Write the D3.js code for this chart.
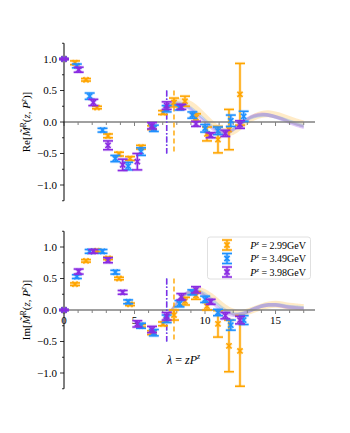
<!DOCTYPE html>
<html><head><meta charset="utf-8">
<script src="https://cdn.jsdelivr.net/npm/d3@7"></script>
<style>body{margin:0;background:#fff}svg{display:block}text{font-family:"Liberation Serif","DejaVu Serif",serif}</style>
</head><body><div id="c"></div>
<script>
// ---- data ----
const seriesNames = ["2.99", "3.49", "3.98"];
const seriesColors = ["#FFA500", "#1E90FF", "#8A2BE2"];
const lambdaOrange = [0,0.78,1.56,2.34,3.12,3.90,4.68,5.46,6.24,7.02,7.80,8.58,9.36,10.14,10.92,11.70,12.48];
const lambdaBlue   = [0,0.91,1.82,2.73,3.64,4.55,5.46,6.37,7.28,8.19,9.10,10.01,10.92,11.83,12.74];
const lambdaPurple = [0,1.04,2.08,3.12,4.16,5.20,6.24,7.28,8.32,9.36,10.40,11.44,12.48];

const reOrange = [1.0,0.94,0.67,0.23,-0.22,-0.51,-0.58,-0.40,-0.09,0.15,0.31,0.33,0.07,-0.19,-0.28,-0.12,0.44];
const reOrangeErr = [0.005,0.03,0.02,0.02,0.03,0.03,0.03,0.03,0.03,0.03,0.07,0.08,0.06,0.11,0.21,0.32,0.49];
const reBlue = [1.0,0.89,0.41,-0.13,-0.58,-0.70,-0.47,-0.10,0.21,0.23,0.11,-0.10,-0.14,0.02,0.09];
const reBlueErr = [0.005,0.03,0.05,0.03,0.05,0.06,0.06,0.05,0.05,0.04,0.05,0.06,0.06,0.09,0.08];
const rePurple = [1.0,0.83,0.31,-0.37,-0.68,-0.63,-0.06,0.26,0.24,-0.03,-0.21,-0.18,-0.04];
const rePurpleErr = [0.005,0.04,0.05,0.07,0.09,0.13,0.05,0.06,0.04,0.04,0.04,0.05,0.06];

const imOrange = [0,0.41,0.78,0.94,0.82,0.50,0.09,-0.25,-0.36,-0.22,-0.08,0.14,0.23,0.06,-0.22,-0.57,-0.65];
const imOrangeErr = [0.005,0.02,0.02,0.02,0.02,0.02,0.02,0.02,0.03,0.03,0.08,0.06,0.06,0.06,0.21,0.41,0.56];
const imBlue = [0,0.53,0.93,0.93,0.60,0.13,-0.25,-0.36,-0.14,0.10,0.28,0.17,-0.04,-0.24,-0.16];
const imBlueErr = [0.005,0.03,0.03,0.03,0.03,0.03,0.04,0.05,0.06,0.05,0.04,0.05,0.05,0.08,0.07];
const imPurple = [0,0.61,0.93,0.79,0.28,-0.22,-0.31,-0.10,0.21,0.32,0.13,-0.09,-0.16];
const imPurpleErr = [0.005,0.04,0.03,0.04,0.03,0.05,0.05,0.06,0.05,0.05,0.04,0.05,0.06];

// fitted bands
const bandLambda = [7,7.5,8,8.5,9,9.5,10,10.5,11,11.5,12,12.5,13,13.5,14,14.5,15,15.5,16,16.5,17];
const reBandOrange = [0.20,0.28,0.32,0.32,0.28,0.20,0.09,-0.02,-0.11,-0.16,-0.15,-0.08,0.01,0.08,0.12,0.13,0.11,0.08,0.04,0.00,-0.03];
const reBandBlue   = [0.20,0.27,0.30,0.28,0.22,0.13,0.03,-0.07,-0.15,-0.17,-0.12,-0.04,0.04,0.09,0.11,0.11,0.08,0.05,0.01,-0.03,-0.06];
const reBandPurple = [0.20,0.26,0.28,0.26,0.20,0.10,0.00,-0.10,-0.17,-0.18,-0.12,-0.03,0.05,0.10,0.12,0.11,0.08,0.04,-0.01,-0.05,-0.08];
const imBandOrange = [-0.18,-0.06,0.08,0.20,0.28,0.31,0.28,0.21,0.12,0.03,-0.03,-0.05,-0.03,0.01,0.05,0.08,0.09,0.08,0.06,0.05,0.04];
const imBandBlue   = [-0.16,-0.04,0.10,0.22,0.29,0.30,0.25,0.16,0.07,-0.01,-0.06,-0.06,-0.03,0.02,0.06,0.08,0.08,0.07,0.05,0.04,0.03];
const imBandPurple = [-0.15,-0.03,0.12,0.24,0.30,0.29,0.22,0.12,0.02,-0.05,-0.08,-0.07,-0.03,0.02,0.06,0.08,0.08,0.06,0.04,0.03,0.02];
const bandHalf = [0.055, 0.03, 0.03];

const zmaxLambda = [7.80, 7.28, 7.28];
const yTicks = [-1.0, -0.5, 0.0, 0.5, 1.0];
const xTickLabels = [0, 5, 10, 15];

// ---- layout ----
const W = 350, H = 433;
const svg = d3.select("#c").append("svg").attr("width", W).attr("height", H);
const x = d3.scaleLinear().domain([0, 17.8]).range([64, 315]);
const panels = [
  {top: 43.25, bottom: 200.75, label: "Re", pts: [[lambdaOrange, reOrange, reOrangeErr],[lambdaBlue, reBlue, reBlueErr],[lambdaPurple, rePurple, rePurpleErr]], bands: [reBandOrange, reBandBlue, reBandPurple], xlabels: false},
  {top: 231.25, bottom: 388.75, label: "Im", pts: [[lambdaOrange, imOrange, imOrangeErr],[lambdaBlue, imBlue, imBlueErr],[lambdaPurple, imPurple, imPurpleErr]], bands: [imBandOrange, imBandBlue, imBandPurple], xlabels: true}
];

function drawErr(g, px, py, ylo, yhi, color) {
  const cw = 5;
  [[3.2, 0.22], [1.5, 1]].forEach(([sw, op]) => {
    const gg = g.append("g").attr("stroke", color).attr("stroke-opacity", op).attr("stroke-width", sw).attr("fill", "none");
    gg.append("line").attr("x1", px).attr("x2", px).attr("y1", ylo).attr("y2", yhi);
    gg.append("line").attr("x1", px - cw).attr("x2", px + cw).attr("y1", ylo).attr("y2", ylo);
    gg.append("line").attr("x1", px - cw).attr("x2", px + cw).attr("y1", yhi).attr("y2", yhi);
    const m = 2.6;
    gg.append("path").attr("d", `M${px-m},${py-m}L${px+m},${py+m}M${px-m},${py+m}L${px+m},${py-m}`);
  });
}

panels.forEach((p, pi) => {
  const y = d3.scaleLinear().domain([-1.25, 1.25]).range([p.bottom, p.top]);
  const g = svg.append("g");

  // bands
  p.bands.forEach((b, si) => {
    const pts = bandLambda.map((l, i) => [l, b[i]]);
    g.append("path")
      .attr("d", d3.area().curve(d3.curveCatmullRom)
        .x(d => x(d[0])).y0(d => y(d[1] - bandHalf[si])).y1(d => y(d[1] + bandHalf[si]))(pts))
      .attr("fill", seriesColors[si]).attr("fill-opacity", si === 0 ? 0.22 : 0.25);
  });

  // x zero axis
  g.append("line").attr("x1", x(0)).attr("x2", x(17.8)).attr("y1", y(0)).attr("y2", y(0))
    .attr("stroke", "#808080").attr("stroke-width", 1.6);
  const xt = d3.range(0, 18);
  g.selectAll(".xt").data(xt).enter().append("line")
    .attr("x1", d => x(d)).attr("x2", d => x(d))
    .attr("y1", y(0)).attr("y2", d => y(0) + (d % 5 === 0 ? 4 : 3))
    .attr("stroke", "#808080").attr("stroke-width", 1);
  if (p.xlabels) {
    g.selectAll(".xl").data(xTickLabels).enter().append("text")
      .attr("x", d => x(d)).attr("y", y(0) + 14).attr("text-anchor", "middle")
      .attr("font-size", 11).attr("fill", "#000").text(d => d);
  }

  // left spine
  g.append("line").attr("x1", 64).attr("x2", 64).attr("y1", p.top).attr("y2", p.bottom)
    .attr("stroke", "#000").attr("stroke-width", 1);
  const minor = d3.range(-1.25, 1.26, 0.25);
  g.selectAll(".ym").data(minor).enter().append("line")
    .attr("x1", 64).attr("x2", d => (Math.abs(d * 2 - Math.round(d * 2)) < 1e-6) ? 60 : 62)
    .attr("y1", d => y(d)).attr("y2", d => y(d)).attr("stroke", "#000").attr("stroke-width", 0.8);
  g.selectAll(".yl").data(yTicks).enter().append("text")
    .attr("x", 57).attr("y", d => y(d) + 3.8).attr("text-anchor", "end")
    .attr("font-size", 11).attr("fill", "#000")
    .text(d => d3.format(".1f")(d).replace("-", "\u2212"));

  // y label
  const lab = g.append("text").attr("transform", `translate(30,${y(0)}) rotate(-90)`)
    .attr("text-anchor", "middle").attr("font-size", 11).attr("fill", "#000");
  lab.append("tspan").text(p.label + "[");
  lab.append("tspan").attr("font-style", "italic").text("M\u0303");
  lab.append("tspan").attr("font-size", 7.5).attr("dy", -4).text("R");
  lab.append("tspan").attr("dy", 4).text("(");
  lab.append("tspan").attr("font-style", "italic").text("z");
  lab.append("tspan").text(", ");
  lab.append("tspan").attr("font-style", "italic").text("P");
  lab.append("tspan").attr("font-size", 7.5).attr("font-style", "italic").attr("dy", -4).text("z");
  lab.append("tspan").attr("dy", 4).text(")]");

  // vertical zmax lines
  [[0, "5,3"], [1, "6,2,1.5,2"], [2, "6,2,1.5,2"]].forEach(([si, dash]) => {
    g.append("line").attr("x1", x(zmaxLambda[si])).attr("x2", x(zmaxLambda[si]))
      .attr("y1", y(0.5)).attr("y2", y(-0.5)).attr("stroke", seriesColors[si])
      .attr("stroke-width", 1.4).attr("stroke-dasharray", dash);
  });

  // points
  p.pts.forEach(([lam, val, err], si) => {
    const sg = g.append("g");
    lam.forEach((l, i) => {
      drawErr(sg, x(l), y(val[i]), y(val[i] - err[i]), y(val[i] + err[i]), seriesColors[si]);
    });
  });

  if (pi === 1) {
    const t = g.append("text").attr("x", 167).attr("y", 364).attr("font-size", 12).attr("fill", "#000");
    t.append("tspan").attr("font-style", "italic").text("λ");
    t.append("tspan").text(" = ");
    t.append("tspan").attr("font-style", "italic").text("zP");
    t.append("tspan").attr("font-style", "italic").attr("font-size", 8).attr("dy", -5).text("z");

    // legend
    const lg = g.append("g");
    lg.append("rect").attr("x", 207.5).attr("y", 237).attr("width", 103).attr("height", 42).attr("rx", 2.5)
      .attr("fill", "#fff").attr("fill-opacity", 0.85).attr("stroke", "#d8d8d8").attr("stroke-width", 0.8);
    seriesNames.forEach((n, si) => {
      const cy = 245 + si * 13.5;
      drawErr(lg, 227, cy, cy + 5, cy - 5, seriesColors[si]);
      const tt = lg.append("text").attr("x", 306).attr("y", cy + 3.5).attr("text-anchor", "end")
        .attr("font-size", 10).attr("fill", "#000");
      tt.append("tspan").attr("font-style", "italic").text("P");
      tt.append("tspan").attr("font-style", "italic").attr("font-size", 7).attr("dy", -4).text("z");
      tt.append("tspan").attr("dy", 4).text(" = " + n + "GeV");
    });
  }
});
</script></body></html>
